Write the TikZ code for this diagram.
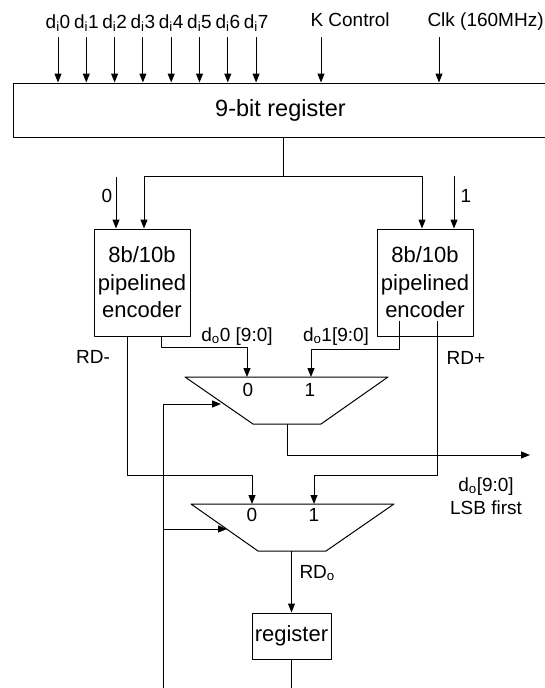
\documentclass[tikz,border=0pt]{standalone}
\usepackage{fontspec}
\setmainfont{Liberation Sans}
\usetikzlibrary{arrows.meta}

\begin{document}
\begin{tikzpicture}[x=1pt, y=-1pt, line width=1pt, line join=round, >={Triangle[length=9pt,width=7pt]},
	font=\fontsize{19}{23}\selectfont,
	blk/.style={draw, inner sep=0pt, align=center, font=\fontsize{22}{27.5}\selectfont},
	lbl/.style={inner sep=0pt, anchor=base}]
	\useasboundingbox (0,0) rectangle (545,688);
	% 9-bit register and its inputs
	\node[blk, minimum width=535, minimum height=54, font=\fontsize{23.5}{28}\selectfont] (reg) at (280.5,110) {9-bit register};
	\foreach \i in {0,...,7}{
		\node[lbl] (d\i) at (58+28.3*\i,28) {d\textsubscript{i}\i};
		\coordinate (ds\i) at (58+28.3*\i,37);
		\draw[->] (ds\i) -- (ds\i |- reg.north);
	}
	\node[lbl, anchor=base west] (kc) at (310,27) {K Control};
	\node[lbl, anchor=base west] (clk) at (427,27) {Clk (160MHz)};
	\coordinate (kcs) at (321,37);
	\coordinate (clks) at (439,37);
	\draw[->] (kcs) -- (kcs |- reg.north);
	\draw[->] (clks) -- (clks |- reg.north);
	% encoders
	\node[blk, minimum width=96, minimum height=107] (encL) at (142,282.5) {8b/10b\\pipelined\\encoder};
	\node[blk, minimum width=96, minimum height=107] (encR) at (425,282.5) {8b/10b\\pipelined\\encoder};
	\coordinate (split) at (283,176);
	\draw (split |- reg.south) -- (split);
	\draw[->] (split) -| ([xshift=2pt]encL.north);
	\draw[->] (split) -| ([xshift=-3pt]encR.north);
	\coordinate (zin) at (116,177);
	\coordinate (oin) at (454,176);
	\draw[->] (zin) -- (zin |- encL.north);
	\draw[->] (oin) -- (oin |- encR.north);
	\node[lbl] (zl) at (107,202) {0};
	\node[lbl] (ol) at (466,202) {1};
	% multiplexers
	\coordinate (m1a) at (185,377); \coordinate (m1b) at (388,377);
	\coordinate (m1c) at (321,424); \coordinate (m1d) at (253,424);
	\draw (m1a) -- (m1b) -- (m1c) -- (m1d) -- cycle;
	\coordinate (m2a) at (191,504); \coordinate (m2b) at (394,504);
	\coordinate (m2c) at (326,551); \coordinate (m2d) at (258,551);
	\draw (m2a) -- (m2b) -- (m2c) -- (m2d) -- cycle;
	\coordinate (m1i0) at (247,377); \coordinate (m1i1) at (311,377);
	\coordinate (m2i0) at (252,504); \coordinate (m2i1) at (314,504);
	\node[lbl] (m1z) at (248,396) {0};
	\node[lbl] (m1o) at (310,396) {1};
	\node[lbl] (m2z) at (252,521) {0};
	\node[lbl] (m2o) at (314,521) {1};
	% encoder outputs
	\draw[->] ([xshift=19pt]encL.south) -- ++(0,11) -| (m1i0);
	\draw[->] ([xshift=-15pt]encL.south) -- ++(0,139) -| (m2i0);
	\draw[->] ([xshift=-26pt,yshift=16pt]encR.south) -- ++(0,29) -| (m1i1);
	\draw[->] ([xshift=12pt,yshift=16pt]encR.south) -- ++(0,155) -| (m2i1);
	\node[lbl] (do0) at (237,341) {d\textsubscript{o}0 [9:0]};
	\node[lbl] (do1) at (336,341) {d\textsubscript{o}1[9:0]};
	\node[lbl] (rdm) at (93,363) {RD-};
	\node[lbl] (rdp) at (466,364) {RD+};
	% data out
	\coordinate (m1out) at (287,424);
	\coordinate (dout) at (530,455);
	\draw[->] (m1out) |- (dout);
	\node[inner sep=0pt, align=center] (doutl) at (486,496) {d\textsubscript{o}[9:0]\\LSB first};
	% running disparity
	\node[blk, minimum width=79, minimum height=46] (rego) at (291.5,636) {register};
	\coordinate (m2out) at (291.5,551);
	\draw[->] (m2out) -- (rego.north);
	\node[lbl, anchor=base west] (rdo) at (299,578) {RD\textsubscript{o}};
	\coordinate (fb) at (163,688);
	\coordinate (m1s) at (221,404);
	\coordinate (m2s) at (227,529);
	\draw[->] (fb) |- (m1s);
	\draw[->] (fb |- m2s) -- (m2s);
	\draw (rego.south) -- (rego.south |- fb);
\end{tikzpicture}
\end{document}
